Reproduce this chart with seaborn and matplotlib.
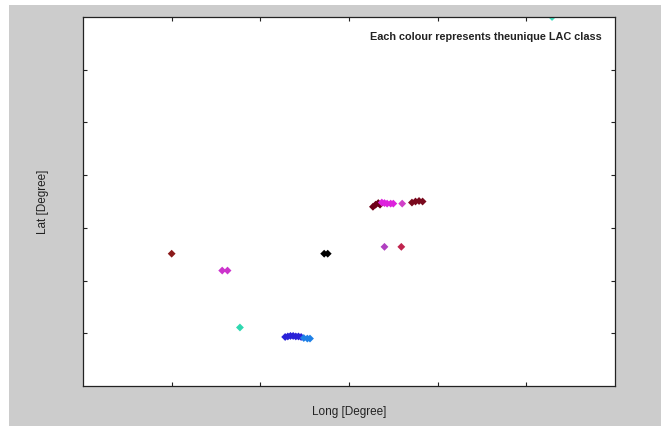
import pandas as pd
import matplotlib
matplotlib.use('Agg')
import matplotlib.pyplot as plt
import seaborn as sns
from matplotlib.patches import Rectangle

# points, grouped by LAC class
lac_class = ['A', 'B', 'B', 'C', 'D', 'D', 'D', 'D', 'D', 'D', 'D',
             'E', 'E', 'E', 'F', 'F', 'G', 'G', 'G', 'G',
             'H', 'H', 'H', 'H', 'H', 'I', 'J', 'J', 'J', 'J',
             'K', 'L', 'M']
longs = [1.00, 1.57, 1.63, 1.77, 2.28, 2.31, 2.34, 2.37, 2.40, 2.43, 2.46,
         2.49, 2.53, 2.56, 2.72, 2.76, 3.27, 3.30, 3.33, 3.35,
         3.37, 3.40, 3.43, 3.47, 3.50, 3.60, 3.71, 3.75, 3.79, 3.83,
         3.40, 3.59, 5.29]
lats = [2.51, 2.19, 2.19, 1.11, 0.93, 0.94, 0.95, 0.95, 0.94, 0.94, 0.93,
        0.91, 0.90, 0.90, 2.51, 2.51, 3.40, 3.44, 3.47, 3.44,
        3.48, 3.47, 3.46, 3.46, 3.46, 3.46, 3.48, 3.50, 3.51, 3.50,
        2.64, 2.64, 7.00]
class_colours = {'A': '#8b1a1a', 'B': '#cc33cc', 'C': '#2fd8b0', 'D': '#2a22d8',
                 'E': '#1e80e6', 'F': '#000000', 'G': '#6e0018', 'H': '#dd22dd',
                 'I': '#d040c8', 'J': '#7a0a1e', 'K': '#b040c0', 'L': '#c0244e',
                 'M': '#40e0c0'}

df = pd.DataFrame({'Long': longs, 'Lat': lats, 'LAC': lac_class})

sns.set_style('white')
plt.rcParams['font.family'] = ['Liberation Sans', 'DejaVu Sans']

fig = plt.figure(figsize=(6.61, 4.26), dpi=100, facecolor='white')
fig.patches.append(Rectangle((9 / 661, 0), 1, 1 - 5 / 426, transform=fig.transFigure,
                             facecolor='#cccccc', edgecolor='none', zorder=-10))
ax = fig.add_axes([83 / 661, 40 / 426, 532 / 661, 369 / 426])
ax.set_facecolor('white')

sns.scatterplot(data=df, x='Long', y='Lat', hue='LAC', palette=class_colours,
                marker='D', s=16, linewidth=0, legend=False, ax=ax)

ax.set_xlim(0, 6)
ax.set_ylim(0, 7)
ax.set_xticks([1, 2, 3, 4, 5])
ax.set_yticks([1, 2, 3, 4, 5, 6])
ax.set_xticklabels([])
ax.set_yticklabels([])
ax.tick_params(direction='in', length=3, width=0.8, top=True, right=True,
               bottom=True, left=True, colors='#222222')
for sp in ax.spines.values():
    sp.set_color('#222222')
    sp.set_linewidth(0.9)

ax.set_xlabel('Long [Degree]', fontsize=8.5, color='#222222', labelpad=11)
ax.set_ylabel('Lat [Degree]', fontsize=8.5, color='#222222', labelpad=21)

ax.text(0.975, 0.945, 'Each colour represents theunique LAC class', transform=ax.transAxes,
        ha='right', va='center', fontsize=7.8, fontweight='bold', color='#222222')

fig.savefig('out.png', dpi=100, facecolor=fig.get_facecolor())
